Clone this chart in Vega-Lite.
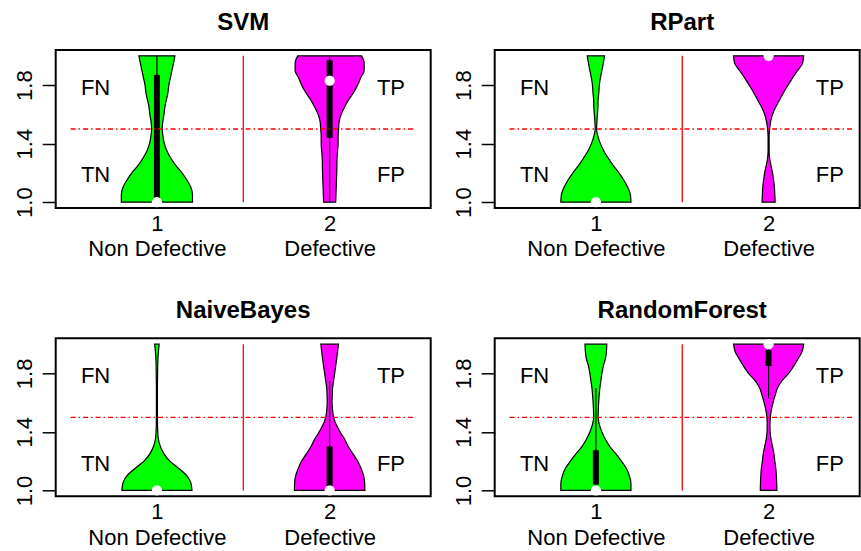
{
"$schema": "https://vega.github.io/schema/vega-lite/v6.json",
"background": "white",
"padding": {"left": 11.7, "top": 10, "right": 0, "bottom": 0},
"bounds": "flush",
"spacing": 288.3,
"datasets": {
"violin": [
{"m":"SVM","g":1,"y":2.00,"lo":0.896,"hi":1.104},{"m":"SVM","g":1,"y":1.95,"lo":0.904,"hi":1.096},{"m":"SVM","g":1,"y":1.90,"lo":0.913,"hi":1.087},{"m":"SVM","g":1,"y":1.85,"lo":0.922,"hi":1.078},{"m":"SVM","g":1,"y":1.80,"lo":0.931,"hi":1.069},{"m":"SVM","g":1,"y":1.75,"lo":0.936,"hi":1.064},{"m":"SVM","g":1,"y":1.70,"lo":0.945,"hi":1.055},{"m":"SVM","g":1,"y":1.65,"lo":0.954,"hi":1.046},{"m":"SVM","g":1,"y":1.60,"lo":0.959,"hi":1.041},{"m":"SVM","g":1,"y":1.55,"lo":0.966,"hi":1.034},{"m":"SVM","g":1,"y":1.50,"lo":0.969,"hi":1.031},{"m":"SVM","g":1,"y":1.45,"lo":0.965,"hi":1.035},{"m":"SVM","g":1,"y":1.40,"lo":0.957,"hi":1.043},{"m":"SVM","g":1,"y":1.35,"lo":0.942,"hi":1.058},{"m":"SVM","g":1,"y":1.30,"lo":0.919,"hi":1.081},{"m":"SVM","g":1,"y":1.25,"lo":0.890,"hi":1.110},{"m":"SVM","g":1,"y":1.20,"lo":0.855,"hi":1.145},{"m":"SVM","g":1,"y":1.15,"lo":0.826,"hi":1.174},{"m":"SVM","g":1,"y":1.10,"lo":0.803,"hi":1.197},{"m":"SVM","g":1,"y":1.05,"lo":0.794,"hi":1.206},{"m":"SVM","g":1,"y":1.00,"lo":0.794,"hi":1.206},
{"m":"SVM","g":2,"y":2.00,"lo":1.815,"hi":2.185},{"m":"SVM","g":2,"y":1.95,"lo":1.800,"hi":2.200},{"m":"SVM","g":2,"y":1.90,"lo":1.800,"hi":2.200},{"m":"SVM","g":2,"y":1.85,"lo":1.820,"hi":2.180},{"m":"SVM","g":2,"y":1.80,"lo":1.838,"hi":2.162},{"m":"SVM","g":2,"y":1.75,"lo":1.861,"hi":2.139},{"m":"SVM","g":2,"y":1.70,"lo":1.890,"hi":2.110},{"m":"SVM","g":2,"y":1.65,"lo":1.913,"hi":2.087},{"m":"SVM","g":2,"y":1.60,"lo":1.933,"hi":2.067},{"m":"SVM","g":2,"y":1.55,"lo":1.945,"hi":2.055},{"m":"SVM","g":2,"y":1.50,"lo":1.948,"hi":2.052},{"m":"SVM","g":2,"y":1.45,"lo":1.951,"hi":2.049},{"m":"SVM","g":2,"y":1.40,"lo":1.951,"hi":2.049},{"m":"SVM","g":2,"y":1.35,"lo":1.954,"hi":2.046},{"m":"SVM","g":2,"y":1.30,"lo":1.957,"hi":2.043},{"m":"SVM","g":2,"y":1.20,"lo":1.959,"hi":2.041},{"m":"SVM","g":2,"y":1.10,"lo":1.962,"hi":2.038},{"m":"SVM","g":2,"y":1.00,"lo":1.965,"hi":2.035},
{"m":"RPart","g":1,"y":2.00,"lo":0.950,"hi":1.050},{"m":"RPart","g":1,"y":1.95,"lo":0.957,"hi":1.043},{"m":"RPart","g":1,"y":1.90,"lo":0.965,"hi":1.035},{"m":"RPart","g":1,"y":1.85,"lo":0.974,"hi":1.026},{"m":"RPart","g":1,"y":1.80,"lo":0.980,"hi":1.020},{"m":"RPart","g":1,"y":1.75,"lo":0.983,"hi":1.017},{"m":"RPart","g":1,"y":1.70,"lo":0.987,"hi":1.013},{"m":"RPart","g":1,"y":1.65,"lo":0.988,"hi":1.012},{"m":"RPart","g":1,"y":1.60,"lo":0.991,"hi":1.009},{"m":"RPart","g":1,"y":1.55,"lo":0.994,"hi":1.006},{"m":"RPart","g":1,"y":1.50,"lo":0.996,"hi":1.004},{"m":"RPart","g":1,"y":1.45,"lo":0.988,"hi":1.012},{"m":"RPart","g":1,"y":1.40,"lo":0.974,"hi":1.026},{"m":"RPart","g":1,"y":1.35,"lo":0.954,"hi":1.046},{"m":"RPart","g":1,"y":1.30,"lo":0.928,"hi":1.072},{"m":"RPart","g":1,"y":1.25,"lo":0.899,"hi":1.101},{"m":"RPart","g":1,"y":1.20,"lo":0.867,"hi":1.133},{"m":"RPart","g":1,"y":1.15,"lo":0.838,"hi":1.162},{"m":"RPart","g":1,"y":1.10,"lo":0.815,"hi":1.185},{"m":"RPart","g":1,"y":1.05,"lo":0.800,"hi":1.200},{"m":"RPart","g":1,"y":1.00,"lo":0.797,"hi":1.203},
{"m":"RPart","g":2,"y":2.00,"lo":1.797,"hi":2.203},{"m":"RPart","g":2,"y":1.95,"lo":1.803,"hi":2.197},{"m":"RPart","g":2,"y":1.90,"lo":1.832,"hi":2.168},{"m":"RPart","g":2,"y":1.85,"lo":1.861,"hi":2.139},{"m":"RPart","g":2,"y":1.80,"lo":1.887,"hi":2.113},{"m":"RPart","g":2,"y":1.75,"lo":1.913,"hi":2.087},{"m":"RPart","g":2,"y":1.70,"lo":1.936,"hi":2.064},{"m":"RPart","g":2,"y":1.65,"lo":1.959,"hi":2.041},{"m":"RPart","g":2,"y":1.60,"lo":1.977,"hi":2.023},{"m":"RPart","g":2,"y":1.55,"lo":1.988,"hi":2.012},{"m":"RPart","g":2,"y":1.50,"lo":1.994,"hi":2.006},{"m":"RPart","g":2,"y":1.45,"lo":1.997,"hi":2.003},{"m":"RPart","g":2,"y":1.40,"lo":1.997,"hi":2.003},{"m":"RPart","g":2,"y":1.35,"lo":1.997,"hi":2.003},{"m":"RPart","g":2,"y":1.30,"lo":1.994,"hi":2.006},{"m":"RPart","g":2,"y":1.25,"lo":1.986,"hi":2.014},{"m":"RPart","g":2,"y":1.20,"lo":1.977,"hi":2.023},{"m":"RPart","g":2,"y":1.15,"lo":1.971,"hi":2.029},{"m":"RPart","g":2,"y":1.10,"lo":1.966,"hi":2.034},{"m":"RPart","g":2,"y":1.05,"lo":1.964,"hi":2.036},{"m":"RPart","g":2,"y":1.00,"lo":1.962,"hi":2.038},
{"m":"NaiveBayes","g":1,"y":2.00,"lo":0.987,"hi":1.013},{"m":"NaiveBayes","g":1,"y":1.95,"lo":0.991,"hi":1.009},{"m":"NaiveBayes","g":1,"y":1.90,"lo":0.994,"hi":1.006},{"m":"NaiveBayes","g":1,"y":1.80,"lo":0.996,"hi":1.004},{"m":"NaiveBayes","g":1,"y":1.70,"lo":0.997,"hi":1.003},{"m":"NaiveBayes","g":1,"y":1.60,"lo":0.997,"hi":1.003},{"m":"NaiveBayes","g":1,"y":1.50,"lo":0.997,"hi":1.003},{"m":"NaiveBayes","g":1,"y":1.40,"lo":0.995,"hi":1.005},{"m":"NaiveBayes","g":1,"y":1.35,"lo":0.991,"hi":1.009},{"m":"NaiveBayes","g":1,"y":1.30,"lo":0.980,"hi":1.020},{"m":"NaiveBayes","g":1,"y":1.25,"lo":0.959,"hi":1.041},{"m":"NaiveBayes","g":1,"y":1.20,"lo":0.925,"hi":1.075},{"m":"NaiveBayes","g":1,"y":1.15,"lo":0.873,"hi":1.127},{"m":"NaiveBayes","g":1,"y":1.10,"lo":0.826,"hi":1.174},{"m":"NaiveBayes","g":1,"y":1.05,"lo":0.803,"hi":1.197},{"m":"NaiveBayes","g":1,"y":1.00,"lo":0.797,"hi":1.203},
{"m":"NaiveBayes","g":2,"y":2.00,"lo":1.949,"hi":2.051},{"m":"NaiveBayes","g":2,"y":1.95,"lo":1.954,"hi":2.046},{"m":"NaiveBayes","g":2,"y":1.90,"lo":1.959,"hi":2.041},{"m":"NaiveBayes","g":2,"y":1.85,"lo":1.965,"hi":2.035},{"m":"NaiveBayes","g":2,"y":1.80,"lo":1.971,"hi":2.029},{"m":"NaiveBayes","g":2,"y":1.75,"lo":1.977,"hi":2.023},{"m":"NaiveBayes","g":2,"y":1.70,"lo":1.983,"hi":2.017},{"m":"NaiveBayes","g":2,"y":1.65,"lo":1.985,"hi":2.015},{"m":"NaiveBayes","g":2,"y":1.60,"lo":1.986,"hi":2.014},{"m":"NaiveBayes","g":2,"y":1.55,"lo":1.983,"hi":2.017},{"m":"NaiveBayes","g":2,"y":1.50,"lo":1.977,"hi":2.023},{"m":"NaiveBayes","g":2,"y":1.45,"lo":1.962,"hi":2.038},{"m":"NaiveBayes","g":2,"y":1.40,"lo":1.939,"hi":2.061},{"m":"NaiveBayes","g":2,"y":1.35,"lo":1.913,"hi":2.087},{"m":"NaiveBayes","g":2,"y":1.30,"lo":1.892,"hi":2.108},{"m":"NaiveBayes","g":2,"y":1.25,"lo":1.865,"hi":2.135},{"m":"NaiveBayes","g":2,"y":1.20,"lo":1.837,"hi":2.163},{"m":"NaiveBayes","g":2,"y":1.15,"lo":1.818,"hi":2.182},{"m":"NaiveBayes","g":2,"y":1.10,"lo":1.803,"hi":2.197},{"m":"NaiveBayes","g":2,"y":1.05,"lo":1.797,"hi":2.203},{"m":"NaiveBayes","g":2,"y":1.00,"lo":1.796,"hi":2.204},
{"m":"RandomForest","g":1,"y":2.00,"lo":0.937,"hi":1.063},{"m":"RandomForest","g":1,"y":1.95,"lo":0.939,"hi":1.061},{"m":"RandomForest","g":1,"y":1.90,"lo":0.945,"hi":1.055},{"m":"RandomForest","g":1,"y":1.85,"lo":0.957,"hi":1.043},{"m":"RandomForest","g":1,"y":1.80,"lo":0.965,"hi":1.035},{"m":"RandomForest","g":1,"y":1.75,"lo":0.971,"hi":1.029},{"m":"RandomForest","g":1,"y":1.70,"lo":0.977,"hi":1.023},{"m":"RandomForest","g":1,"y":1.65,"lo":0.981,"hi":1.019},{"m":"RandomForest","g":1,"y":1.60,"lo":0.984,"hi":1.016},{"m":"RandomForest","g":1,"y":1.55,"lo":0.986,"hi":1.014},{"m":"RandomForest","g":1,"y":1.50,"lo":0.987,"hi":1.013},{"m":"RandomForest","g":1,"y":1.45,"lo":0.980,"hi":1.020},{"m":"RandomForest","g":1,"y":1.40,"lo":0.965,"hi":1.035},{"m":"RandomForest","g":1,"y":1.35,"lo":0.945,"hi":1.055},{"m":"RandomForest","g":1,"y":1.30,"lo":0.919,"hi":1.081},{"m":"RandomForest","g":1,"y":1.25,"lo":0.884,"hi":1.116},{"m":"RandomForest","g":1,"y":1.20,"lo":0.852,"hi":1.148},{"m":"RandomForest","g":1,"y":1.15,"lo":0.823,"hi":1.177},{"m":"RandomForest","g":1,"y":1.10,"lo":0.806,"hi":1.194},{"m":"RandomForest","g":1,"y":1.05,"lo":0.797,"hi":1.203},{"m":"RandomForest","g":1,"y":1.00,"lo":0.797,"hi":1.203},
{"m":"RandomForest","g":2,"y":2.00,"lo":1.797,"hi":2.203},{"m":"RandomForest","g":2,"y":1.95,"lo":1.806,"hi":2.194},{"m":"RandomForest","g":2,"y":1.90,"lo":1.829,"hi":2.171},{"m":"RandomForest","g":2,"y":1.85,"lo":1.855,"hi":2.145},{"m":"RandomForest","g":2,"y":1.80,"lo":1.884,"hi":2.116},{"m":"RandomForest","g":2,"y":1.75,"lo":1.922,"hi":2.078},{"m":"RandomForest","g":2,"y":1.70,"lo":1.948,"hi":2.052},{"m":"RandomForest","g":2,"y":1.65,"lo":1.962,"hi":2.038},{"m":"RandomForest","g":2,"y":1.60,"lo":1.974,"hi":2.026},{"m":"RandomForest","g":2,"y":1.55,"lo":1.984,"hi":2.016},{"m":"RandomForest","g":2,"y":1.50,"lo":1.990,"hi":2.010},{"m":"RandomForest","g":2,"y":1.45,"lo":1.992,"hi":2.008},{"m":"RandomForest","g":2,"y":1.40,"lo":1.991,"hi":2.009},{"m":"RandomForest","g":2,"y":1.35,"lo":1.986,"hi":2.014},{"m":"RandomForest","g":2,"y":1.30,"lo":1.977,"hi":2.023},{"m":"RandomForest","g":2,"y":1.25,"lo":1.969,"hi":2.031},{"m":"RandomForest","g":2,"y":1.20,"lo":1.964,"hi":2.036},{"m":"RandomForest","g":2,"y":1.15,"lo":1.958,"hi":2.042},{"m":"RandomForest","g":2,"y":1.10,"lo":1.955,"hi":2.045},{"m":"RandomForest","g":2,"y":1.05,"lo":1.953,"hi":2.047},{"m":"RandomForest","g":2,"y":1.00,"lo":1.952,"hi":2.048}
],
"whisk": [
{"m":"SVM","g":1,"lo":1.0,"hi":2.0},{"m":"SVM","g":2,"lo":1.0,"hi":2.0},
{"m":"NaiveBayes","g":2,"lo":1.0,"hi":1.75},
{"m":"RandomForest","g":1,"lo":1.0,"hi":1.70},{"m":"RandomForest","g":2,"lo":1.63,"hi":2.0}
],
"iqr": [
{"m":"SVM","g":1,"lo":1.03,"hi":1.87},{"m":"SVM","g":2,"lo":1.44,"hi":1.97},
{"m":"NaiveBayes","g":2,"lo":1.03,"hi":1.30},
{"m":"RandomForest","g":1,"lo":1.04,"hi":1.275},{"m":"RandomForest","g":2,"lo":1.85,"hi":1.96}
],
"med": [
{"m":"SVM","g":1,"v":1.0},{"m":"SVM","g":2,"v":1.83},
{"m":"RPart","g":1,"v":1.0},{"m":"RPart","g":2,"v":2.0},
{"m":"NaiveBayes","g":1,"v":1.0},{"m":"NaiveBayes","g":2,"v":1.0},
{"m":"RandomForest","g":1,"v":1.0},{"m":"RandomForest","g":2,"v":2.0}
],
"lab": [
{"t":"FN","x":0.645,"y":1.8},{"t":"TN","x":0.645,"y":1.2},{"t":"TP","x":2.355,"y":1.8},{"t":"FP","x":2.355,"y":1.2}
],
"one": [{}]
},
"vconcat": [
{"hconcat": [
{"width": 375, "height": 158, "title": {"text": "SVM"},
"layer": [
{"data": {"name": "violin"}, "transform": [{"filter": "datum.m == 'SVM'"}],
"mark": {"type": "area", "orient": "horizontal", "interpolate": "monotone", "stroke": "black", "strokeWidth": 1.2, "opacity": 1},
"encoding": {
"y": {"field": "y", "type": "quantitative", "scale": {"domain": [0.96, 2.04], "nice": false, "zero": false}, "axis": {"values": [1, 1.2, 1.4, 1.6, 1.8, 2], "labelExpr": "datum.value == 1 ? '1.0' : datum.value == 1.4 ? '1.4' : datum.value == 1.8 ? '1.8' : ''", "labelAngle": -90, "labelAlign": "center", "labelBaseline": "alphabetic", "labelPadding": 10.5, "tickSize": 13.5, "tickWidth": 1.5, "title": null, "labelOverlap": false, "labelFlush": false, "labelBound": false}},
"x": {"field": "lo", "type": "quantitative", "scale": {"domain": [0.414, 2.585], "nice": false, "zero": false}, "axis": {"values": [1, 2], "labelExpr": "datum.value == 1 ? ['1', 'Non Defective'] : ['2', 'Defective']", "ticks": false, "tickSize": 0, "labelBaseline": "top", "labelPadding": 5, "labelLineHeight": 26, "labelAngle": 0, "title": null, "labelOverlap": false, "labelFlush": false}},
"x2": {"field": "hi"},
"color": {"field": "g", "type": "nominal", "scale": {"domain": [1, 2], "range": ["#00ff00", "#ff00ff"]}, "legend": null}}},
{"data": {"name": "whisk"}, "transform": [{"filter": "datum.m == 'SVM'"}], "mark": {"type": "rule", "color": "black", "strokeWidth": 1.2}, "encoding": {"x": {"field": "g", "type": "quantitative"}, "y": {"field": "lo", "type": "quantitative"}, "y2": {"field": "hi"}}},
{"data": {"name": "iqr"}, "transform": [{"filter": "datum.m == 'SVM'"}], "mark": {"type": "rule", "color": "black", "strokeWidth": 6, "strokeCap": "butt"}, "encoding": {"x": {"field": "g", "type": "quantitative"}, "y": {"field": "lo", "type": "quantitative"}, "y2": {"field": "hi"}}},
{"data": {"name": "med"}, "transform": [{"filter": "datum.m == 'SVM'"}], "mark": {"type": "point", "filled": true, "color": "white", "size": 105, "opacity": 1}, "encoding": {"x": {"field": "g", "type": "quantitative"}, "y": {"field": "v", "type": "quantitative"}}},
{"data": {"name": "one"}, "mark": {"type": "rule", "color": "#ff0000", "strokeWidth": 1.3}, "encoding": {"x": {"datum": 1.5}, "y": {"datum": 1}, "y2": {"datum": 2}}},
{"data": {"name": "one"}, "mark": {"type": "rule", "color": "#ff0000", "strokeWidth": 1.3, "strokeDash": [5, 3, 1.5, 3]}, "encoding": {"x": {"datum": 0.5}, "x2": {"datum": 2.5}, "y": {"datum": 1.5}}},
{"data": {"name": "lab"}, "mark": {"type": "text", "fontSize": 22, "baseline": "middle", "dy": 2.5, "color": "black"}, "encoding": {"x": {"field": "x", "type": "quantitative"}, "y": {"field": "y", "type": "quantitative"}, "text": {"field": "t"}}}
]},
{"width": 365, "height": 158, "title": {"text": "RPart", "dx": 5},
"layer": [
{"data": {"name": "violin"}, "transform": [{"filter": "datum.m == 'RPart'"}],
"mark": {"type": "area", "orient": "horizontal", "interpolate": "monotone", "stroke": "black", "strokeWidth": 1.2, "opacity": 1},
"encoding": {
"y": {"field": "y", "type": "quantitative", "scale": {"domain": [0.96, 2.04], "nice": false, "zero": false}, "axis": {"values": [1, 1.2, 1.4, 1.6, 1.8, 2], "labelExpr": "datum.value == 1 ? '1.0' : datum.value == 1.4 ? '1.4' : datum.value == 1.8 ? '1.8' : ''", "labelAngle": -90, "labelAlign": "center", "labelBaseline": "alphabetic", "labelPadding": 10.5, "tickSize": 13.5, "tickWidth": 1.5, "title": null, "labelOverlap": false, "labelFlush": false, "labelBound": false}},
"x": {"field": "lo", "type": "quantitative", "scale": {"domain": [0.414, 2.5275], "nice": false, "zero": false}, "axis": {"values": [1, 2], "labelExpr": "datum.value == 1 ? ['1', 'Non Defective'] : ['2', 'Defective']", "ticks": false, "tickSize": 0, "labelBaseline": "top", "labelPadding": 5, "labelLineHeight": 26, "labelAngle": 0, "title": null, "labelOverlap": false, "labelFlush": false}},
"x2": {"field": "hi"},
"color": {"field": "g", "type": "nominal", "scale": {"domain": [1, 2], "range": ["#00ff00", "#ff00ff"]}, "legend": null}}},
{"data": {"name": "med"}, "transform": [{"filter": "datum.m == 'RPart'"}], "mark": {"type": "point", "filled": true, "color": "white", "size": 105, "opacity": 1}, "encoding": {"x": {"field": "g", "type": "quantitative"}, "y": {"field": "v", "type": "quantitative"}}},
{"data": {"name": "one"}, "mark": {"type": "rule", "color": "#ff0000", "strokeWidth": 1.3}, "encoding": {"x": {"datum": 1.5}, "y": {"datum": 1}, "y2": {"datum": 2}}},
{"data": {"name": "one"}, "mark": {"type": "rule", "color": "#ff0000", "strokeWidth": 1.3, "strokeDash": [5, 3, 1.5, 3]}, "encoding": {"x": {"datum": 0.5}, "x2": {"datum": 2.5}, "y": {"datum": 1.5}}},
{"data": {"name": "lab"}, "mark": {"type": "text", "fontSize": 22, "baseline": "middle", "dy": 2.5, "color": "black"}, "encoding": {"x": {"field": "x", "type": "quantitative"}, "y": {"field": "y", "type": "quantitative"}, "text": {"field": "t"}}}
]}
], "spacing": 64, "bounds": "flush"},
{"hconcat": [
{"width": 375, "height": 158, "title": {"text": "NaiveBayes"},
"layer": [
{"data": {"name": "violin"}, "transform": [{"filter": "datum.m == 'NaiveBayes'"}],
"mark": {"type": "area", "orient": "horizontal", "interpolate": "monotone", "stroke": "black", "strokeWidth": 1.2, "opacity": 1},
"encoding": {
"y": {"field": "y", "type": "quantitative", "scale": {"domain": [0.96, 2.04], "nice": false, "zero": false}, "axis": {"values": [1, 1.2, 1.4, 1.6, 1.8, 2], "labelExpr": "datum.value == 1 ? '1.0' : datum.value == 1.4 ? '1.4' : datum.value == 1.8 ? '1.8' : ''", "labelAngle": -90, "labelAlign": "center", "labelBaseline": "alphabetic", "labelPadding": 10.5, "tickSize": 13.5, "tickWidth": 1.5, "title": null, "labelOverlap": false, "labelFlush": false, "labelBound": false}},
"x": {"field": "lo", "type": "quantitative", "scale": {"domain": [0.414, 2.585], "nice": false, "zero": false}, "axis": {"values": [1, 2], "labelExpr": "datum.value == 1 ? ['1', 'Non Defective'] : ['2', 'Defective']", "ticks": false, "tickSize": 0, "labelBaseline": "top", "labelPadding": 5, "labelLineHeight": 26, "labelAngle": 0, "title": null, "labelOverlap": false, "labelFlush": false}},
"x2": {"field": "hi"},
"color": {"field": "g", "type": "nominal", "scale": {"domain": [1, 2], "range": ["#00ff00", "#ff00ff"]}, "legend": null}}},
{"data": {"name": "whisk"}, "transform": [{"filter": "datum.m == 'NaiveBayes'"}], "mark": {"type": "rule", "color": "black", "strokeWidth": 1.2}, "encoding": {"x": {"field": "g", "type": "quantitative"}, "y": {"field": "lo", "type": "quantitative"}, "y2": {"field": "hi"}}},
{"data": {"name": "iqr"}, "transform": [{"filter": "datum.m == 'NaiveBayes'"}], "mark": {"type": "rule", "color": "black", "strokeWidth": 6, "strokeCap": "butt"}, "encoding": {"x": {"field": "g", "type": "quantitative"}, "y": {"field": "lo", "type": "quantitative"}, "y2": {"field": "hi"}}},
{"data": {"name": "med"}, "transform": [{"filter": "datum.m == 'NaiveBayes'"}], "mark": {"type": "point", "filled": true, "color": "white", "size": 105, "opacity": 1}, "encoding": {"x": {"field": "g", "type": "quantitative"}, "y": {"field": "v", "type": "quantitative"}}},
{"data": {"name": "one"}, "mark": {"type": "rule", "color": "#ff0000", "strokeWidth": 1.3}, "encoding": {"x": {"datum": 1.5}, "y": {"datum": 1}, "y2": {"datum": 2}}},
{"data": {"name": "one"}, "mark": {"type": "rule", "color": "#ff0000", "strokeWidth": 1.3, "strokeDash": [5, 3, 1.5, 3]}, "encoding": {"x": {"datum": 0.5}, "x2": {"datum": 2.5}, "y": {"datum": 1.5}}},
{"data": {"name": "lab"}, "mark": {"type": "text", "fontSize": 22, "baseline": "middle", "dy": 2.5, "color": "black"}, "encoding": {"x": {"field": "x", "type": "quantitative"}, "y": {"field": "y", "type": "quantitative"}, "text": {"field": "t"}}}
]},
{"width": 365, "height": 158, "title": {"text": "RandomForest", "dx": 5},
"layer": [
{"data": {"name": "violin"}, "transform": [{"filter": "datum.m == 'RandomForest'"}],
"mark": {"type": "area", "orient": "horizontal", "interpolate": "monotone", "stroke": "black", "strokeWidth": 1.2, "opacity": 1},
"encoding": {
"y": {"field": "y", "type": "quantitative", "scale": {"domain": [0.96, 2.04], "nice": false, "zero": false}, "axis": {"values": [1, 1.2, 1.4, 1.6, 1.8, 2], "labelExpr": "datum.value == 1 ? '1.0' : datum.value == 1.4 ? '1.4' : datum.value == 1.8 ? '1.8' : ''", "labelAngle": -90, "labelAlign": "center", "labelBaseline": "alphabetic", "labelPadding": 10.5, "tickSize": 13.5, "tickWidth": 1.5, "title": null, "labelOverlap": false, "labelFlush": false, "labelBound": false}},
"x": {"field": "lo", "type": "quantitative", "scale": {"domain": [0.414, 2.5275], "nice": false, "zero": false}, "axis": {"values": [1, 2], "labelExpr": "datum.value == 1 ? ['1', 'Non Defective'] : ['2', 'Defective']", "ticks": false, "tickSize": 0, "labelBaseline": "top", "labelPadding": 5, "labelLineHeight": 26, "labelAngle": 0, "title": null, "labelOverlap": false, "labelFlush": false}},
"x2": {"field": "hi"},
"color": {"field": "g", "type": "nominal", "scale": {"domain": [1, 2], "range": ["#00ff00", "#ff00ff"]}, "legend": null}}},
{"data": {"name": "whisk"}, "transform": [{"filter": "datum.m == 'RandomForest'"}], "mark": {"type": "rule", "color": "black", "strokeWidth": 1.2}, "encoding": {"x": {"field": "g", "type": "quantitative"}, "y": {"field": "lo", "type": "quantitative"}, "y2": {"field": "hi"}}},
{"data": {"name": "iqr"}, "transform": [{"filter": "datum.m == 'RandomForest'"}], "mark": {"type": "rule", "color": "black", "strokeWidth": 6, "strokeCap": "butt"}, "encoding": {"x": {"field": "g", "type": "quantitative"}, "y": {"field": "lo", "type": "quantitative"}, "y2": {"field": "hi"}}},
{"data": {"name": "med"}, "transform": [{"filter": "datum.m == 'RandomForest'"}], "mark": {"type": "point", "filled": true, "color": "white", "size": 105, "opacity": 1}, "encoding": {"x": {"field": "g", "type": "quantitative"}, "y": {"field": "v", "type": "quantitative"}}},
{"data": {"name": "one"}, "mark": {"type": "rule", "color": "#ff0000", "strokeWidth": 1.3}, "encoding": {"x": {"datum": 1.5}, "y": {"datum": 1}, "y2": {"datum": 2}}},
{"data": {"name": "one"}, "mark": {"type": "rule", "color": "#ff0000", "strokeWidth": 1.3, "strokeDash": [5, 3, 1.5, 3]}, "encoding": {"x": {"datum": 0.5}, "x2": {"datum": 2.5}, "y": {"datum": 1.5}}},
{"data": {"name": "lab"}, "mark": {"type": "text", "fontSize": 22, "baseline": "middle", "dy": 2.5, "color": "black"}, "encoding": {"x": {"field": "x", "type": "quantitative"}, "y": {"field": "y", "type": "quantitative"}, "text": {"field": "t"}}}
]}
], "spacing": 64, "bounds": "flush"}
],
"config": {
"font": "Liberation Sans",
"view": {"stroke": "black", "strokeWidth": 2},
"title": {"fontSize": 24, "fontWeight": "bold", "font": "Liberation Sans", "color": "black", "anchor": "middle", "frame": "group", "baseline": "alphabetic", "offset": 15},
"axis": {"labelFont": "Liberation Sans", "labelColor": "black", "labelFontSize": 22, "grid": false, "domain": false, "tickColor": "black"}
}
}
